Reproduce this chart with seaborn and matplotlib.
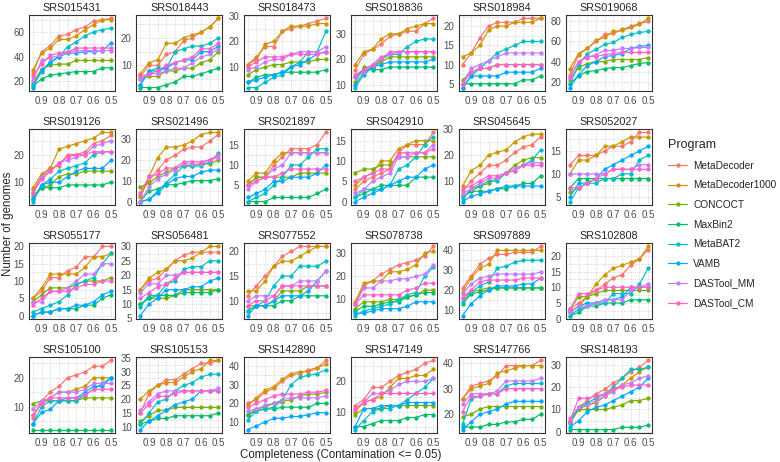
import matplotlib
matplotlib.use("Agg")
import numpy as np
import pandas as pd
import matplotlib.pyplot as plt
import seaborn as sns
from matplotlib.lines import Line2D
from matplotlib.ticker import FixedLocator

completeness = [0.95, 0.9, 0.85, 0.8, 0.75, 0.7, 0.65, 0.6, 0.55, 0.5]
programs = ["MetaDecoder", "MetaDecoder1000", "CONCOCT", "MaxBin2",
            "MetaBAT2", "VAMB", "DASTool_MM", "DASTool_CM"]
colors = ["#F8766D", "#CD9600", "#7CAE00", "#00BE67",
          "#00BFC4", "#00A9FF", "#C77CFF", "#FF61CC"]

samples = ["SRS015431", "SRS018443", "SRS018473", "SRS018836", "SRS018984", "SRS019068",
           "SRS019126", "SRS021496", "SRS021897", "SRS042910", "SRS045645", "SRS052027",
           "SRS055177", "SRS056481", "SRS077552", "SRS078738", "SRS097889", "SRS102808",
           "SRS105100", "SRS105153", "SRS142890", "SRS147149", "SRS147766", "SRS148193"]

# y axis breaks of each panel (free scales)
y_breaks = [[20, 40, 60], [10, 20], [10, 20, 30], [10, 20, 30], [5, 10, 15, 20], [20, 40, 60, 80],
            [10, 20], [0, 10, 20, 30], [5, 10, 15], [0, 5, 10, 15], [10, 20, 30], [5, 10, 15],
            [0, 5, 10, 15, 20], [5, 10, 15, 20, 25, 30], [10, 15, 20], [10, 20, 30],
            [10, 20, 30, 40], [0, 5, 10, 15, 20],
            [10, 20], [10, 15, 20, 25, 30, 35], [10, 20, 30, 40], [10, 20], [20, 30, 40],
            [0, 10, 20, 30]]

# genome counts, one row per program (same order as programs)
srs015431 = [[27, 44, 49, 57, 58, 62, 64, 69, 70, 71],
             [29, 43, 47, 54, 54, 57, 62, 66, 70, 70],
             [19, 30, 33, 34, 34, 37, 37, 37, 37, 37],
             [16, 22, 25, 26, 27, 28, 28, 28, 31, 31],
             [17, 28, 36, 40, 48, 52, 57, 60, 62, 63],
             [15, 29, 35, 40, 43, 43, 44, 44, 45, 51],
             [21, 37, 39, 41, 44, 45, 45, 45, 45, 45],
             [24, 34, 41, 43, 44, 47, 47, 47, 47, 47]]
srs018443 = [[6, 10, 10, 14, 15, 19, 20, 22, 24, 27],
             [7, 11, 12, 18, 18, 20, 21, 22, 24, 27],
             [5, 6, 6, 8, 8, 9, 9, 11, 12, 15],
             [2, 2, 2, 3, 4, 6, 6, 7, 8, 9],
             [3, 8, 9, 9, 15, 16, 17, 17, 18, 20],
             [3, 8, 8, 9, 11, 12, 12, 15, 15, 17],
             [5, 7, 7, 8, 9, 9, 11, 13, 14, 16],
             [6, 7, 8, 10, 11, 12, 13, 16, 16, 18]]
srs018473 = [[11, 14, 18, 18, 24, 25, 26, 27, 28, 29],
             [11, 13, 19, 20, 24, 26, 26, 26, 27, 27],
             [7, 9, 10, 11, 11, 12, 12, 12, 13, 13],
             [4, 6, 7, 7, 8, 8, 8, 8, 8, 9],
             [2, 2, 4, 6, 7, 10, 12, 16, 16, 24],
             [4, 5, 6, 7, 8, 10, 11, 13, 15, 16],
             [9, 10, 12, 13, 13, 15, 16, 16, 16, 18],
             [10, 12, 14, 14, 14, 15, 15, 15, 15, 16]]
srs018836 = [[16, 22, 24, 26, 29, 30, 31, 31, 34, 36],
             [18, 23, 24, 28, 30, 30, 32, 33, 34, 34],
             [11, 17, 17, 19, 21, 21, 21, 21, 21, 21],
             [13, 16, 16, 16, 17, 17, 17, 17, 17, 17],
             [9, 14, 17, 20, 22, 22, 25, 27, 28, 28],
             [10, 15, 17, 18, 19, 19, 19, 19, 19, 20],
             [13, 15, 18, 21, 22, 23, 23, 23, 23, 23],
             [14, 16, 18, 20, 23, 23, 23, 23, 23, 23]]
srs018984 = [[10, 13, 17, 20, 21, 21, 21, 22, 22, 22],
             [12, 13, 15, 19, 20, 20, 21, 21, 21, 22],
             [6, 8, 9, 9, 10, 10, 10, 10, 10, 10],
             [5, 5, 5, 5, 5, 5, 5, 6, 6, 7],
             [4, 7, 9, 11, 13, 14, 15, 16, 16, 16],
             [4, 7, 7, 7, 7, 8, 8, 8, 8, 9],
             [5, 9, 10, 11, 12, 13, 13, 13, 13, 13],
             [5, 8, 9, 9, 10, 10, 10, 10, 10, 10]]
srs019068 = [[27, 47, 53, 60, 67, 68, 72, 75, 78, 80],
             [33, 48, 53, 61, 64, 70, 71, 74, 77, 83],
             [22, 34, 38, 40, 40, 42, 42, 42, 42, 44],
             [18, 26, 30, 31, 33, 34, 34, 36, 38, 39],
             [18, 37, 48, 52, 57, 59, 64, 67, 69, 70],
             [14, 27, 36, 40, 45, 46, 48, 53, 55, 56],
             [25, 40, 44, 47, 51, 51, 53, 53, 54, 54],
             [24, 40, 45, 45, 47, 48, 49, 49, 49, 49]]
srs019126 = [[7, 12, 15, 16, 20, 20, 21, 24, 25, 27],
             [8, 13, 15, 22, 23, 24, 25, 26, 28, 28],
             [5, 8, 9, 12, 13, 13, 14, 14, 14, 14],
             [4, 8, 8, 8, 9, 9, 9, 9, 9, 10],
             [3, 9, 11, 14, 15, 16, 17, 20, 21, 21],
             [4, 9, 10, 10, 12, 14, 15, 15, 15, 18],
             [6, 12, 14, 17, 18, 19, 20, 23, 24, 25],
             [6, 11, 14, 17, 19, 20, 20, 21, 21, 21]]
srs021496 = [[3, 10, 15, 20, 22, 25, 26, 26, 29, 32],
             [2, 12, 21, 26, 26, 27, 29, 32, 33, 33],
             [7, 9, 12, 14, 16, 17, 17, 18, 18, 20],
             [0, 5, 6, 8, 8, 9, 10, 10, 10, 11],
             [0, 1, 5, 9, 13, 17, 17, 17, 19, 23],
             [0, 1, 4, 8, 11, 12, 12, 14, 15, 15],
             [0, 7, 11, 13, 15, 18, 18, 18, 20, 21],
             [4, 12, 13, 16, 16, 19, 19, 19, 20, 22]]
srs021897 = [[5, 7, 7, 10, 12, 14, 14, 14, 15, 18],
             [6, 8, 8, 11, 13, 13, 13, 13, 13, 13],
             [5, 7, 7, 7, 7, 7, 8, 8, 8, 8],
             [1, 1, 1, 2, 2, 2, 2, 2, 3, 4],
             [1, 2, 3, 5, 7, 10, 10, 12, 14, 14],
             [2, 3, 4, 6, 6, 7, 7, 7, 8, 10],
             [4, 6, 7, 9, 10, 13, 13, 13, 13, 13],
             [5, 6, 7, 7, 8, 9, 9, 9, 9, 9]]
srs042910 = [[3, 5, 6, 7, 8, 12, 14, 14, 14, 17],
             [4, 6, 7, 10, 10, 13, 14, 15, 15, 15],
             [7, 8, 8, 9, 9, 11, 11, 11, 11, 11],
             [1, 2, 3, 4, 4, 4, 4, 6, 6, 6],
             [1, 3, 3, 3, 4, 8, 9, 11, 14, 16],
             [0, 1, 2, 3, 4, 5, 6, 6, 8, 9],
             [2, 3, 5, 6, 7, 11, 11, 12, 12, 14],
             [5, 6, 7, 8, 8, 12, 12, 12, 12, 13]]
srs045645 = [[6, 10, 13, 16, 16, 18, 21, 23, 24, 27],
             [8, 14, 16, 20, 21, 22, 25, 27, 28, 28],
             [4, 6, 8, 9, 11, 13, 16, 18, 19, 19],
             [4, 6, 6, 6, 7, 7, 8, 9, 9, 12],
             [3, 7, 8, 10, 10, 13, 14, 16, 18, 22],
             [2, 4, 5, 6, 7, 8, 8, 8, 8, 8],
             [5, 7, 9, 11, 11, 13, 15, 16, 17, 17],
             [7, 8, 10, 12, 12, 13, 14, 16, 16, 16]]
srs052027 = [[12, 14, 14, 14, 15, 16, 16, 17, 19, 19],
             [10, 13, 13, 14, 16, 16, 17, 18, 18, 18],
             [6, 7, 8, 9, 9, 9, 9, 9, 9, 9],
             [7, 9, 9, 9, 9, 9, 9, 9, 9, 9],
             [4, 7, 8, 8, 9, 9, 10, 10, 13, 14],
             [5, 8, 8, 9, 11, 12, 13, 14, 15, 16],
             [10, 10, 10, 10, 10, 11, 11, 11, 12, 12],
             [7, 7, 8, 9, 10, 11, 11, 11, 11, 11]]
srs055177 = [[5, 7, 11, 11, 13, 14, 17, 17, 20, 20],
             [5, 8, 12, 12, 12, 12, 14, 17, 17, 18],
             [4, 6, 8, 8, 8, 9, 10, 10, 10, 11],
             [0, 1, 1, 2, 2, 2, 3, 3, 5, 6],
             [1, 2, 3, 4, 6, 9, 10, 11, 15, 18],
             [0, 1, 1, 2, 2, 3, 3, 4, 6, 7],
             [4, 4, 7, 7, 8, 10, 12, 12, 15, 15],
             [3, 5, 7, 7, 7, 8, 9, 9, 10, 10]]
srs056481 = [[15, 18, 19, 22, 25, 27, 28, 28, 28, 28],
             [15, 19, 21, 22, 25, 25, 26, 28, 30, 30],
             [10, 12, 12, 12, 13, 15, 15, 15, 15, 15],
             [10, 12, 13, 13, 13, 14, 14, 14, 14, 15],
             [9, 13, 13, 17, 18, 22, 23, 23, 25, 25],
             [6, 10, 12, 15, 15, 15, 16, 16, 18, 19],
             [14, 17, 17, 20, 20, 21, 21, 21, 21, 21],
             [12, 14, 16, 17, 19, 21, 21, 21, 21, 21]]
srs077552 = [[11, 13, 15, 17, 19, 20, 21, 21, 21, 21],
             [12, 12, 14, 17, 18, 18, 19, 20, 21, 21],
             [9, 9, 9, 10, 12, 12, 12, 13, 13, 13],
             [8, 9, 9, 9, 10, 10, 11, 11, 11, 11],
             [8, 9, 10, 13, 15, 15, 17, 17, 17, 18],
             [7, 9, 9, 10, 11, 11, 11, 12, 14, 16],
             [10, 11, 11, 11, 13, 13, 14, 14, 14, 16],
             [9, 10, 10, 11, 13, 13, 13, 13, 13, 13]]
srs078738 = [[8, 16, 18, 21, 23, 25, 26, 27, 29, 33],
             [9, 17, 18, 18, 22, 22, 23, 25, 30, 31],
             [6, 9, 9, 9, 10, 10, 11, 12, 14, 14],
             [5, 7, 7, 8, 9, 9, 11, 12, 13, 13],
             [3, 5, 6, 7, 8, 10, 12, 13, 20, 24],
             [4, 4, 5, 6, 6, 6, 7, 9, 9, 9],
             [8, 15, 15, 18, 18, 19, 19, 20, 21, 25],
             [8, 12, 12, 12, 12, 12, 14, 15, 17, 17]]
srs097889 = [[21, 27, 33, 36, 38, 38, 39, 39, 39, 42],
             [19, 26, 31, 33, 40, 40, 40, 40, 40, 40],
             [16, 19, 20, 21, 21, 21, 21, 21, 21, 21],
             [13, 18, 19, 20, 21, 21, 21, 21, 21, 21],
             [14, 19, 22, 24, 31, 32, 34, 35, 35, 35],
             [7, 13, 17, 20, 22, 22, 22, 23, 23, 26],
             [18, 23, 26, 27, 28, 28, 28, 28, 28, 29],
             [16, 20, 24, 25, 25, 25, 25, 26, 26, 26]]
srs102808 = [[3, 5, 7, 9, 11, 13, 14, 17, 19, 22],
             [2, 4, 7, 11, 14, 16, 17, 18, 19, 23],
             [3, 7, 7, 8, 9, 9, 9, 9, 9, 9],
             [1, 2, 4, 4, 5, 5, 5, 6, 6, 6],
             [1, 3, 4, 5, 5, 8, 8, 8, 11, 16],
             [2, 4, 5, 5, 6, 6, 7, 10, 10, 10],
             [2, 4, 4, 5, 6, 6, 6, 9, 10, 11],
             [3, 8, 8, 9, 10, 10, 10, 10, 10, 10]]
srs105100 = [[6, 12, 15, 17, 20, 21, 22, 24, 24, 26],
             [7, 11, 13, 15, 15, 16, 17, 20, 20, 20],
             [11, 12, 12, 12, 12, 12, 13, 13, 13, 13],
             [2, 2, 2, 2, 2, 2, 2, 2, 2, 2],
             [4, 10, 12, 12, 12, 12, 14, 16, 18, 20],
             [4, 8, 9, 12, 13, 13, 15, 17, 17, 20],
             [9, 12, 13, 15, 15, 15, 16, 18, 18, 18],
             [7, 11, 13, 13, 13, 13, 14, 16, 16, 16]]
srs105153 = [[15, 22, 25, 27, 27, 29, 31, 33, 33, 34],
             [20, 23, 25, 26, 26, 28, 30, 31, 34, 34],
             [12, 14, 16, 16, 17, 17, 17, 17, 17, 17],
             [11, 12, 13, 13, 14, 14, 14, 14, 14, 15],
             [11, 15, 19, 20, 23, 25, 26, 28, 29, 29],
             [9, 12, 14, 16, 18, 19, 20, 23, 23, 23],
             [16, 19, 22, 23, 23, 23, 23, 23, 23, 24],
             [15, 18, 21, 21, 22, 23, 23, 23, 23, 23]]
srs142890 = [[20, 22, 26, 28, 32, 35, 36, 38, 39, 43],
             [19, 23, 27, 29, 33, 36, 37, 37, 39, 41],
             [14, 17, 18, 20, 21, 22, 24, 25, 25, 26],
             [14, 16, 17, 17, 18, 18, 18, 18, 20, 20],
             [11, 16, 17, 18, 22, 30, 34, 35, 36, 38],
             [6, 8, 10, 12, 12, 13, 13, 14, 15, 15],
             [16, 17, 19, 20, 22, 23, 23, 23, 23, 24],
             [18, 20, 22, 24, 25, 25, 25, 26, 26, 27]]
srs147149 = [[12, 14, 18, 18, 20, 22, 23, 24, 26, 27],
             [10, 13, 14, 15, 18, 21, 21, 22, 22, 24],
             [9, 11, 11, 11, 12, 12, 12, 12, 12, 12],
             [5, 5, 6, 7, 7, 7, 8, 8, 9, 9],
             [4, 7, 10, 11, 11, 12, 14, 16, 18, 21],
             [5, 11, 11, 12, 12, 12, 13, 13, 13, 13],
             [11, 13, 16, 16, 17, 19, 20, 20, 20, 21],
             [11, 13, 14, 16, 16, 16, 16, 16, 16, 16]]
srs147766 = [[26, 31, 32, 33, 35, 39, 39, 39, 39, 41],
             [26, 30, 31, 32, 36, 37, 38, 39, 39, 39],
             [19, 20, 22, 23, 23, 23, 23, 23, 23, 23],
             [15, 15, 15, 16, 16, 17, 17, 18, 18, 20],
             [16, 26, 27, 28, 28, 31, 32, 32, 32, 32],
             [14, 17, 20, 21, 22, 24, 25, 25, 25, 25],
             [24, 28, 28, 28, 29, 33, 33, 33, 33, 34],
             [21, 27, 27, 28, 28, 30, 30, 30, 30, 30]]
srs148193 = [[5, 11, 14, 17, 19, 22, 24, 27, 29, 32],
             [5, 10, 12, 13, 16, 19, 21, 24, 27, 29],
             [4, 10, 10, 10, 10, 11, 12, 14, 14, 15],
             [1, 1, 1, 1, 1, 1, 2, 2, 2, 3],
             [4, 11, 13, 15, 17, 20, 24, 28, 28, 29],
             [2, 5, 9, 11, 12, 14, 16, 18, 20, 24],
             [6, 11, 12, 14, 16, 18, 21, 22, 24, 25],
             [5, 15, 15, 16, 17, 19, 20, 21, 21, 21]]

counts = [srs015431, srs018443, srs018473, srs018836, srs018984, srs019068,
          srs019126, srs021496, srs021897, srs042910, srs045645, srs052027,
          srs055177, srs056481, srs077552, srs078738, srs097889, srs102808,
          srs105100, srs105153, srs142890, srs147149, srs147766, srs148193]

rows = []
for s, table in zip(samples, counts):
    for prog, vals in zip(programs, table):
        for c, v in zip(completeness, vals):
            rows.append((s, prog, c, v))
df = pd.DataFrame(rows, columns=["sample", "program", "completeness", "genomes"])

sns.set_theme(style="white")
plt.rcParams["font.family"] = ["Liberation Sans", "DejaVu Sans"]

fig, axes = plt.subplots(4, 6, figsize=(7.8, 4.62), dpi=100)
fig.subplots_adjust(left=29 / 780, right=652 / 780, top=1 - 15 / 462,
                    bottom=1 - 433 / 462, wspace=0.25, hspace=0.5)

for ax, s, breaks in zip(axes.flat, samples, y_breaks):
    sub = df[df["sample"] == s]
    sns.lineplot(data=sub, x="completeness", y="genomes", hue="program",
                 hue_order=programs, palette=colors, marker="o", markersize=3.1,
                 markeredgewidth=0, linewidth=0.85, legend=False, ax=ax)
    ax.set_xlim(0.9725, 0.4775)
    ax.set_xticks([0.9, 0.8, 0.7, 0.6, 0.5])
    ax.set_xticklabels(["0.9", "0.8", "0.7", "0.6", "0.5"])
    ax.xaxis.set_minor_locator(FixedLocator([0.95, 0.85, 0.75, 0.65, 0.55]))

    lo, hi = sub["genomes"].min(), sub["genomes"].max()
    pad = 0.05 * (hi - lo)
    ax.set_ylim(lo - pad, hi + pad)
    ax.set_yticks(breaks)
    step = breaks[1] - breaks[0]
    minor = np.arange(breaks[0] - step / 2, breaks[-1] + step, step)
    ax.yaxis.set_minor_locator(FixedLocator(minor))

    ax.grid(which="both", linestyle=":", color="#C8C8C8", linewidth=0.6)
    ax.tick_params(which="minor", length=0)
    ax.tick_params(which="major", length=2.2, width=0.5, color="#333333",
                   labelsize=7, labelcolor="#4D4D4D", pad=1.2)
    for sp in ax.spines.values():
        sp.set_visible(True)
        sp.set_color("#333333")
        sp.set_linewidth(0.8)
    ax.set_title(s, fontsize=7.8, pad=3)
    ax.set_xlabel("")
    ax.set_ylabel("")

fig.text(340.5 / 780, 0.003, "Completeness (Contamination <= 0.05)", ha="center",
         va="bottom", fontsize=8.3)
fig.text(0.002, 1 - 224 / 462, "Number of genomes", rotation=90, ha="left",
         va="center", fontsize=8.3)

handles = [Line2D([0], [0], color=c, lw=0.85, marker="o", markersize=3.1,
                  markeredgewidth=0) for c in colors]
fig.legend(handles, programs, title="Program", loc="upper left",
           bbox_to_anchor=(668 / 780, 1 - 139 / 462), frameon=False, fontsize=7.3,
           title_fontsize=9, labelspacing=0.95, handlelength=1.9,
           handletextpad=0.6, borderpad=0, borderaxespad=0,
           alignment="left")

fig.savefig("out.png", dpi=100)
